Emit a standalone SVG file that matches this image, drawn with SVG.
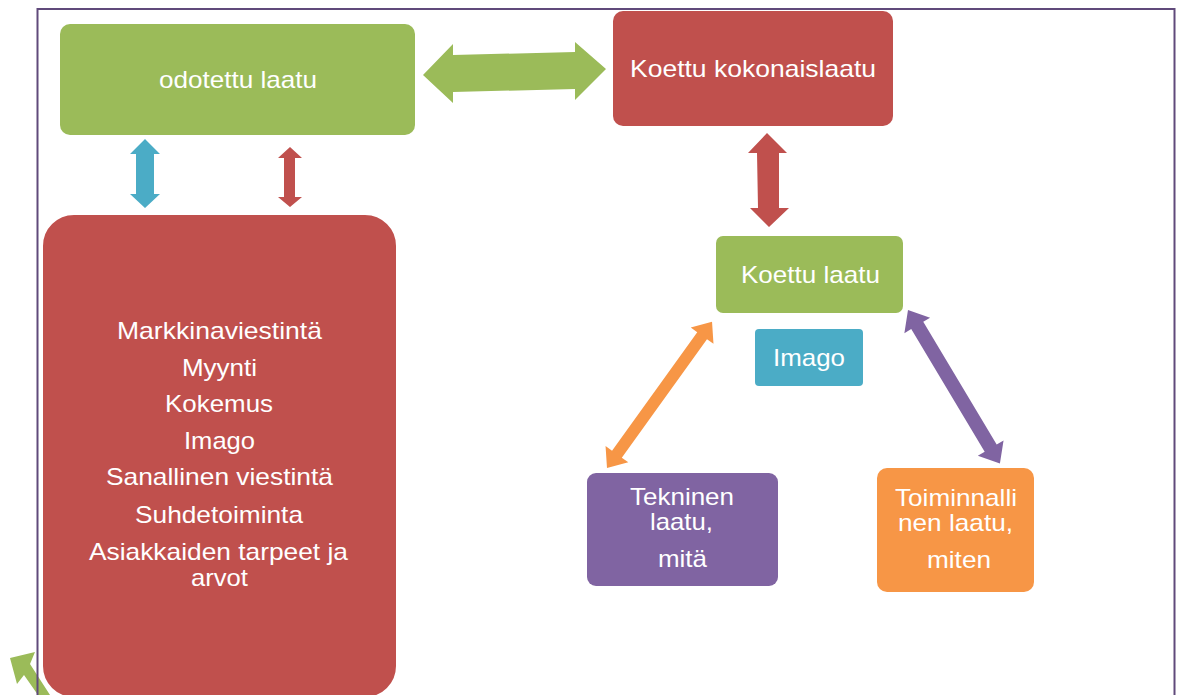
<svg xmlns="http://www.w3.org/2000/svg" width="1177" height="695" viewBox="0 0 1177 695">
<style>
text{font-family:"Liberation Sans",Arial,sans-serif;fill:#fff;text-anchor:middle;font-size:24px}
.g{fill:#9bbb59}.r{fill:#c0504d}.b{fill:#4bacc6}.p{fill:#8064a2}.o{fill:#f79646}
</style>
<rect width="1177" height="695" fill="#fff"/>
<g id="stray-arrow"><polygon class="g" points="10,658 35,652 30,664 50,695 38,695 24,675 17,684"/></g>
<rect id="frame" x="37.5" y="9" width="1137" height="700" fill="none" stroke="#604a7b" stroke-width="2"/>
<g id="odotettu"><rect class="g" x="60" y="24" width="355" height="111" rx="10"/><text x="238" y="88" textLength="158" lengthAdjust="spacingAndGlyphs">odotettu laatu</text></g>
<g id="kokonaislaatu"><rect class="r" x="613" y="11" width="280" height="115" rx="10"/><text x="753" y="77" textLength="246" lengthAdjust="spacingAndGlyphs">Koettu kokonaislaatu</text></g>
<g id="tekijat"><rect class="r" x="42" y="214" width="355" height="484" rx="32" stroke="#fff" stroke-width="2"/>
<text x="219.5" y="339" textLength="205" lengthAdjust="spacingAndGlyphs">Markkinaviestintä</text>
<text x="219.5" y="376" textLength="75" lengthAdjust="spacingAndGlyphs">Myynti</text>
<text x="219" y="412" textLength="108" lengthAdjust="spacingAndGlyphs">Kokemus</text>
<text x="219.5" y="449" textLength="71" lengthAdjust="spacingAndGlyphs">Imago</text>
<text x="219.5" y="485" textLength="227" lengthAdjust="spacingAndGlyphs">Sanallinen viestintä</text>
<text x="219" y="523" textLength="168" lengthAdjust="spacingAndGlyphs">Suhdetoiminta</text>
<text x="218.5" y="560" textLength="259" lengthAdjust="spacingAndGlyphs">Asiakkaiden tarpeet ja</text>
<text x="219.5" y="586" textLength="57" lengthAdjust="spacingAndGlyphs">arvot</text></g>
<g id="koettu-laatu"><rect class="g" x="716" y="236" width="187" height="77" rx="7"/><text x="810.5" y="283" textLength="139" lengthAdjust="spacingAndGlyphs">Koettu laatu</text></g>
<g id="imago"><rect class="b" x="755" y="329" width="108" height="57" rx="4"/><text x="809" y="366" textLength="72" lengthAdjust="spacingAndGlyphs">Imago</text></g>
<g id="tekninen"><rect class="p" x="587" y="473" width="191" height="113" rx="9"/>
<text x="682" y="505" textLength="104" lengthAdjust="spacingAndGlyphs">Tekninen</text>
<text x="681.5" y="530" textLength="63" lengthAdjust="spacingAndGlyphs">laatu,</text>
<text x="682.5" y="567" textLength="49" lengthAdjust="spacingAndGlyphs">mitä</text></g>
<g id="toiminnallinen"><rect class="o" x="877" y="468" width="157" height="124" rx="10"/>
<text x="956" y="506" textLength="122" lengthAdjust="spacingAndGlyphs">Toiminnalli</text>
<text x="955.5" y="531" textLength="115" lengthAdjust="spacingAndGlyphs">nen laatu,</text>
<text x="959" y="568" textLength="64" lengthAdjust="spacingAndGlyphs">miten</text></g>
<g id="connectors">
<polygon class="g" points="423,75 453,44 453,55 575,52 575,42 606,69 575,100 575,89 453,92 453,103"/>
<polygon class="r" points="767,133 787,153 779,153 779,208 789,208 769,227 750,208 758,208 757,153 748,153"/>
<polygon class="b" points="145,139 160,154 154,154 154,194 160,194 145,208 130,194 136,194 136,154 130,154"/>
<polygon class="r" points="290,147 302,158 295,158 295,197 302,197 290,207 278,197 284,197 284,158 278,158"/>
<polygon class="o" transform="translate(607,468) rotate(-54.3)" points="0,0 17,-14 17,-6 163,-6 163,-14 180,0 163,14 163,6 17,6 17,14"/>
<polygon class="p" transform="translate(908,310) rotate(59.1)" points="0,0 18,-15 18,-7 161,-7 161,-15 179,0 161,15 161,7 18,7 18,15"/>
</g>
</svg>
